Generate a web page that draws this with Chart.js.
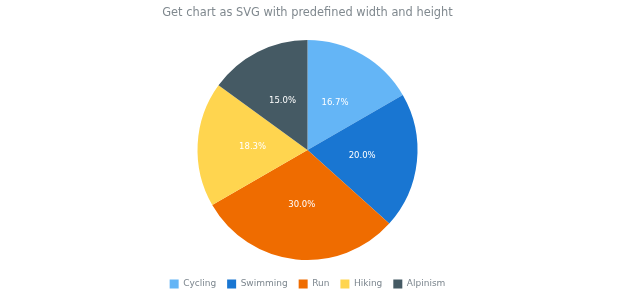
<!DOCTYPE html>
<html>
<head>
<meta charset="utf-8">
<script src="https://cdn.jsdelivr.net/npm/chart.js@4/dist/chart.umd.min.js"></script>
<style>
    body { margin: 0; background: #fff; }
    #canvasContainer { width: 620px; height: 300px; }
</style>
</head>
<body>
<div id="canvasContainer"><canvas id="myChart"></canvas></div>
<script>
// Chart data
const categories = ["Cycling", "Swimming", "Run", "Hiking", "Alpinism"];
const values = [10, 12, 18, 11, 9];
const colors = ["#64b5f6", "#1976d2", "#ef6c00", "#ffd54f", "#455a64"];
const chartTitle = "Get chart as SVG with predefined width and height";

// Percent labels inside the slices
const sliceLabels = {
    id: "sliceLabels",
    afterDatasetsDraw(chart) {
        const c = chart.ctx;
        const meta = chart.getDatasetMeta(0);
        const total = values.reduce((a, b) => a + b, 0);
        c.save();
        c.font = "8.5px 'DejaVu Sans'";
        c.fillStyle = "#fff";
        c.textAlign = "center";
        c.textBaseline = "middle";
        meta.data.forEach((arc, i) => {
            const p = arc.tooltipPosition();
            c.fillText((values[i] / total * 100).toFixed(1) + "%", p.x, p.y);
        });
        c.restore();
    }
};

Chart.defaults.font.family = "'DejaVu Sans'";
const ctx = document.getElementById("myChart");
const chart = new Chart(ctx, {
    type: "pie",
    data: {
        labels: categories,
        datasets: [{
            data: values,
            backgroundColor: colors,
            borderWidth: 0
        }]
    },
    options: {
        responsive: true,
        maintainAspectRatio: false,
        animation: false,
        radius: 110,
        layout: {
            padding: { left: 0, right: 5, top: 0, bottom: 1.5 }
        },
        plugins: {
            title: {
                display: true,
                text: chartTitle,
                color: "#80898f",
                font: { size: 11.4, weight: "normal" },
                padding: { top: 6.6, bottom: 11.2 }
            },
            legend: {
                position: "bottom",
                labels: {
                    color: "#7c868e",
                    font: { size: 9 },
                    boxWidth: 9,
                    boxHeight: 9,
                    padding: 11
                }
            },
            tooltip: { enabled: false }
        }
    },
    plugins: [sliceLabels]
});
</script>
</body>
</html>
